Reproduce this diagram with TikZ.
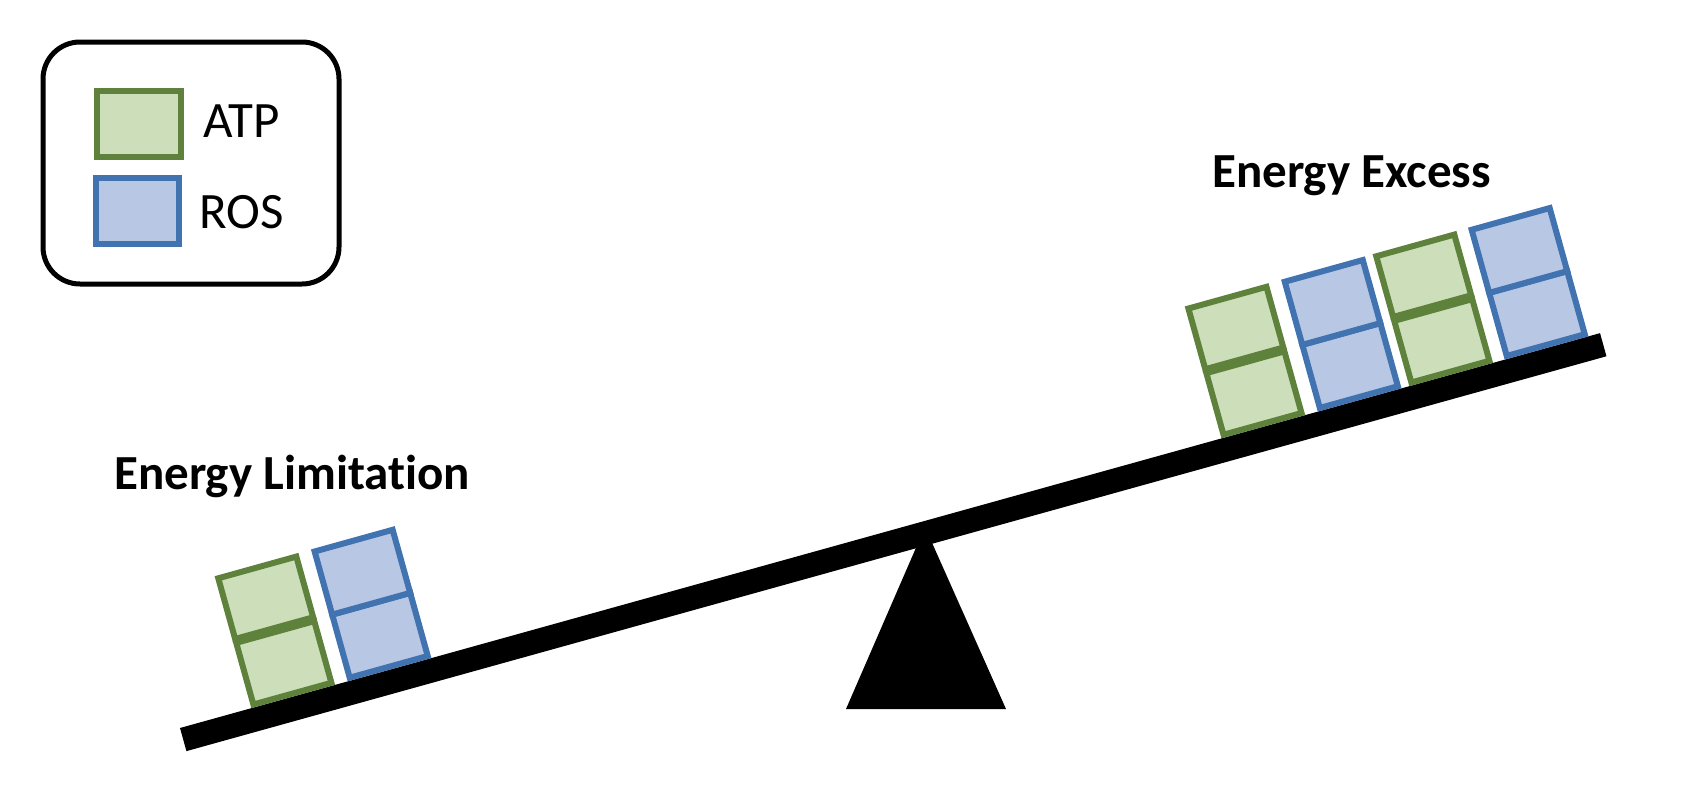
\documentclass[tikz,border=0pt]{standalone}
\usepackage{fontspec}
\setmainfont{Carlito}[Ligatures=CommonOff]
\definecolor{atpfill}{HTML}{CCDFBA}
\definecolor{atpline}{HTML}{5E823C}
\definecolor{rosfill}{HTML}{B8C7E4}
\definecolor{rosline}{HTML}{4173B0}
\tikzset{
  atpcell/.style={draw=atpline, fill=atpfill, line width=6pt},
  roscell/.style={draw=rosline, fill=rosfill, line width=6pt},
  legtext/.style={anchor=base west, inner sep=0pt, font=\fontsize{51}{60}\selectfont},
  headtext/.style={anchor=base west, inner sep=0pt, font=\bfseries\fontsize{49}{60}\selectfont},
}
\newcommand\atpstack[1]{%
  \draw[atpcell] (#1+3,-3) rectangle (#1+84,-67);
  \draw[atpcell] (#1+3,-71) rectangle (#1+84,-134);}
\newcommand\rosstack[1]{%
  \draw[roscell] (#1+3,-3) rectangle (#1+84,-68.5);
  \draw[roscell] (#1+3,-68.5) rectangle (#1+84,-134);}
\begin{document}
\begin{tikzpicture}[x=1pt,y=-1pt]
\useasboundingbox (0,0) rectangle (1684,796);
% legend
\node[draw, line width=5pt, rounded corners=37pt, minimum width=296pt, minimum height=242pt, inner sep=0pt] (legend) at (191,163) {};
\node[atpcell, minimum width=84pt, minimum height=66pt, inner sep=0pt] (legatp) at (139,124) {};
\node[roscell, minimum width=83pt, minimum height=66pt, inner sep=0pt] (legros) at (137.5,211) {};
\node[legtext] (atptext) at (203,137) {ATP};
\node[legtext] (rostext) at (199,228) {ROS};
% headings
\node[headtext] (excess) at (1212,187) {Energy Excess};
\node[headtext] (limit) at (114,489) {Energy Limitation};
% fulcrum
\fill (925,527) -- (846,709) -- (1006,709) -- cycle;
% beam and boxes
\begin{scope}[shift={(180,728)}, rotate=15.54]
  \fill (0,0) rectangle (1474,24);
  \atpstack{74}
  \rosstack{174}
  \atpstack{1081}
  \rosstack{1181}
  \atpstack{1276}
  \rosstack{1375}
\end{scope}
\end{tikzpicture}
\end{document}
